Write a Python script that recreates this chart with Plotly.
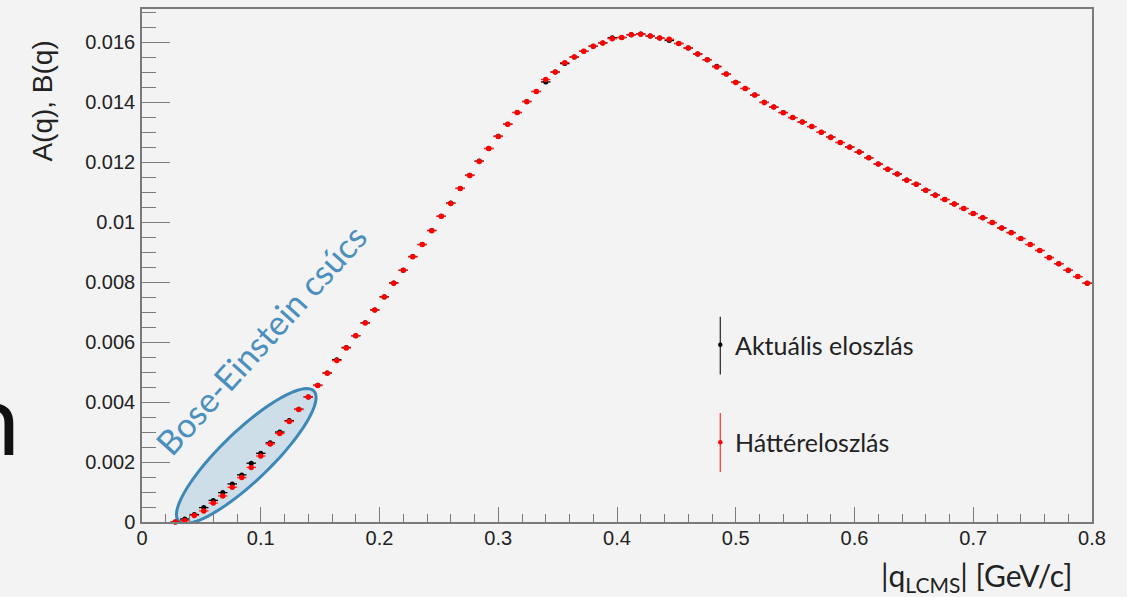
import numpy as np
import plotly.graph_objects as go

# ---------------- data ----------------
q_centers = [0.028, 0.036, 0.044, 0.052, 0.060, 0.068, 0.076, 0.084, 0.092, 0.100,
             0.108, 0.116, 0.124, 0.132, 0.140, 0.148, 0.156, 0.164, 0.172, 0.180,
             0.188, 0.196, 0.204, 0.212, 0.220, 0.228, 0.236, 0.244, 0.252, 0.260,
             0.268, 0.276, 0.284, 0.292, 0.300, 0.308, 0.316, 0.324, 0.332, 0.340,
             0.348, 0.356, 0.364, 0.372, 0.380, 0.388, 0.396, 0.404, 0.412, 0.420,
             0.428, 0.436, 0.444, 0.452, 0.460, 0.468, 0.476, 0.484, 0.492, 0.500,
             0.508, 0.516, 0.524, 0.532, 0.540, 0.548, 0.556, 0.564, 0.572, 0.580,
             0.588, 0.596, 0.604, 0.612, 0.620, 0.628, 0.636, 0.644, 0.652, 0.660,
             0.668, 0.676, 0.684, 0.692, 0.700, 0.708, 0.716, 0.724, 0.732, 0.740,
             0.748, 0.756, 0.764, 0.772, 0.780, 0.788, 0.796]

# A(q): actual distribution (black)
A_actual = [0.00000, 0.00010, 0.00025, 0.00048, 0.00072, 0.00098, 0.00127, 0.00157, 0.00196, 0.00229,
            0.00264, 0.00300, 0.00338, 0.00376, 0.00417, 0.00456, 0.00497, 0.00541, 0.00582, 0.00621,
            0.00664, 0.00707, 0.00751, 0.00797, 0.00839, 0.00885, 0.00925, 0.00972, 0.01019, 0.01063,
            0.01112, 0.01156, 0.01203, 0.01245, 0.01286, 0.01326, 0.01365, 0.01402, 0.01435, 0.01467,
            0.01500, 0.01528, 0.01550, 0.01569, 0.01586, 0.01597, 0.01614, 0.01615, 0.01624, 0.01627,
            0.01620, 0.01613, 0.01605, 0.01595, 0.01580, 0.01560, 0.01541, 0.01519, 0.01493, 0.01466,
            0.01445, 0.01423, 0.01399, 0.01383, 0.01365, 0.01348, 0.01333, 0.01318, 0.01299, 0.01283,
            0.01265, 0.01250, 0.01233, 0.01214, 0.01193, 0.01176, 0.01160, 0.01140, 0.01126, 0.01106,
            0.01090, 0.01075, 0.01060, 0.01045, 0.01028, 0.01014, 0.00998, 0.00980, 0.00965, 0.00945,
            0.00925, 0.00905, 0.00882, 0.00861, 0.00839, 0.00818, 0.00796]

# B(q): background distribution (red)
B_background = [0.00000, 0.00005, 0.00022, 0.00037, 0.00063, 0.00087, 0.00116, 0.00148, 0.00182, 0.00220,
                0.00260, 0.00295, 0.00335, 0.00375, 0.00417, 0.00455, 0.00496, 0.00538, 0.00580, 0.00621,
                0.00663, 0.00707, 0.00750, 0.00796, 0.00839, 0.00884, 0.00925, 0.00971, 0.01019, 0.01062,
                0.01112, 0.01155, 0.01202, 0.01245, 0.01285, 0.01326, 0.01365, 0.01401, 0.01435, 0.01475,
                0.01500, 0.01531, 0.01550, 0.01569, 0.01586, 0.01597, 0.01611, 0.01615, 0.01624, 0.01626,
                0.01620, 0.01613, 0.01609, 0.01595, 0.01580, 0.01560, 0.01541, 0.01517, 0.01493, 0.01465,
                0.01445, 0.01423, 0.01398, 0.01383, 0.01364, 0.01348, 0.01333, 0.01318, 0.01299, 0.01282,
                0.01265, 0.01249, 0.01233, 0.01214, 0.01193, 0.01176, 0.01160, 0.01139, 0.01126, 0.01106,
                0.01089, 0.01075, 0.01060, 0.01045, 0.01028, 0.01014, 0.00998, 0.00980, 0.00964, 0.00945,
                0.00925, 0.00905, 0.00881, 0.00861, 0.00839, 0.00818, 0.00796]

bin_half_width = 0.004
y_err = 0.00006

x_tick_vals = [0, 0.1, 0.2, 0.3, 0.4, 0.5, 0.6, 0.7, 0.8]
x_tick_text = ["0", "0.1", "0.2", "0.3", "0.4", "0.5", "0.6", "0.7", "0.8"]
y_tick_vals = [0, 0.002, 0.004, 0.006, 0.008, 0.010, 0.012, 0.014, 0.016]
y_tick_text = ["0", "0.002", "0.004", "0.006", "0.008", "0.01", "0.012", "0.014", "0.016"]

legend_labels = ["Aktuális eloszlás", "Háttéreloszlás"]
x_title = "|q<sub>LCMS</sub>| [GeV/c]"
y_title = "A(q), B(q)"
annot_text = "Bose-Einstein csúcs"

# ---------------- layout geometry ----------------
W, H = 1127, 597
ML, MR, MT, MB = 142, 35, 7, 75
X_RANGE = [0, 0.8]
Y_RANGE = [0, 0.0171]
plot_w = W - ML - MR
plot_h = H - MT - MB
px_x = plot_w / (X_RANGE[1] - X_RANGE[0])
px_y = plot_h / (Y_RANGE[1] - Y_RANGE[0])

BG = "#f3f3f3"
AXC = "#7a7a7a"
TXT = "#222222"
PPT_FONT = "Lato"
ROOT_FONT = "Liberation Sans"

fig = go.Figure()

fig.add_trace(go.Scatter(
    x=q_centers, y=A_actual, mode="markers", name=legend_labels[0],
    marker=dict(color="black", size=5),
    error_x=dict(type="constant", value=bin_half_width, color="black", thickness=1.3, width=0),
    error_y=dict(type="constant", value=y_err, color="black", thickness=1.3, width=0),
    showlegend=False, cliponaxis=False,
))
fig.add_trace(go.Scatter(
    x=q_centers, y=B_background, mode="markers", name=legend_labels[1],
    marker=dict(color="#ff0000", size=5.5),
    error_x=dict(type="constant", value=bin_half_width, color="#ff2020", thickness=1.3, width=0),
    error_y=dict(type="constant", value=y_err, color="#ff2020", thickness=1.3, width=0),
    showlegend=False, cliponaxis=False,
))

# ---------- ellipse annotation (rotated, built in pixel space) ----------
cx_d, cy_d = 0.0878, 0.0022
a_px, b_px, ang = 94, 25, np.deg2rad(44)
t = np.linspace(0, 2 * np.pi, 90)
ex = a_px * np.cos(t) * np.cos(ang) - b_px * np.sin(t) * np.sin(ang)
ey = a_px * np.cos(t) * np.sin(ang) + b_px * np.sin(t) * np.cos(ang)
xs = cx_d + ex / px_x
ys = cy_d + ey / px_y
path = "M " + " L ".join(f"{a:.6f},{b:.7f}" for a, b in zip(xs, ys)) + " Z"
fig.add_shape(type="path", path=path, xref="x", yref="y",
              line=dict(color="#3d88b6", width=3), fillcolor="rgba(120,175,210,0.30)",
              layer="below")

fig.add_annotation(x=0.0995, y=0.0061, xref="x", yref="y", text=annot_text,
                   textangle=-48, showarrow=False,
                   font=dict(family=PPT_FONT, size=34, color="#4a8fbd"))

# ---------- custom legend ----------
lx = 0.487
leg_items = [
    (legend_labels[0], "#333333", "black", 0.00684, 0.00492, 0.00591),
    (legend_labels[1], "#ff4040", "#ff0000", 0.00363, 0.00167, 0.00266),
]
for label, lc, mc, ytop, ybot, ymid in leg_items:
    fig.add_shape(type="line", x0=lx, x1=lx, y0=ybot, y1=ytop, xref="x", yref="y",
                  line=dict(color=lc, width=1.3))
    fig.add_shape(type="circle", x0=lx - 2.2 / px_x, x1=lx + 2.2 / px_x,
                  y0=ymid - 2.2 / px_y, y1=ymid + 2.2 / px_y, xref="x", yref="y",
                  line=dict(color=mc, width=0), fillcolor=mc)
    fig.add_annotation(x=lx + 13 / px_x, y=ymid, xref="x", yref="y", text=label,
                       xanchor="left", yanchor="middle", showarrow=False,
                       font=dict(family=PPT_FONT, size=25, color=TXT))

# ---------- axis titles ----------
fig.add_annotation(x=0.9824, y=-0.108, xref="paper", yref="paper", text=x_title,
                   xanchor="right", yanchor="middle", showarrow=False,
                   font=dict(family=PPT_FONT, size=30, color=TXT))
fig.add_annotation(x=-0.105, y=0.82, xref="paper", yref="paper", text=y_title,
                   textangle=-90, xanchor="center", yanchor="middle", showarrow=False,
                   font=dict(family=ROOT_FONT, size=28, color=TXT))

# fragment of slide text at left edge
fig.add_annotation(x=-0.126, y=0.085, xref="paper", yref="paper", text="n",
                   xanchor="right", yanchor="bottom", showarrow=False,
                   font=dict(family=PPT_FONT, size=98, color="#111111"))

fig.update_layout(
    width=W, height=H,
    margin=dict(l=ML, r=MR, t=MT, b=MB, pad=0),
    paper_bgcolor=BG, plot_bgcolor=BG,
    showlegend=False,
    xaxis=dict(range=X_RANGE, tickvals=x_tick_vals, ticktext=x_tick_text,
               ticks="inside", ticklen=15, tickwidth=1.3, tickcolor=AXC,
               ticklabelstandoff=-3,
               minor=dict(dtick=0.02, tick0=0, ticks="inside", ticklen=8, tickcolor=AXC, tickwidth=1.3),
               showline=True, linecolor=AXC, linewidth=1.5, mirror=True,
               showgrid=False, zeroline=False,
               tickfont=dict(family=ROOT_FONT, size=20, color=TXT)),
    yaxis=dict(range=Y_RANGE, tickvals=y_tick_vals, ticktext=y_tick_text,
               ticks="inside", ticklen=28, tickwidth=1.3, tickcolor=AXC,
               ticklabelstandoff=1,
               minor=dict(dtick=0.0005, tick0=0, ticks="inside", ticklen=14, tickcolor=AXC, tickwidth=1.3),
               showline=True, linecolor=AXC, linewidth=1.5, mirror=True,
               showgrid=False, zeroline=False,
               tickfont=dict(family=ROOT_FONT, size=20, color=TXT)),
)

fig.write_html("out.html", config={"displayModeBar": False},
               post_script="document.body.style.margin='0';document.body.style.background='#f3f3f3';")
